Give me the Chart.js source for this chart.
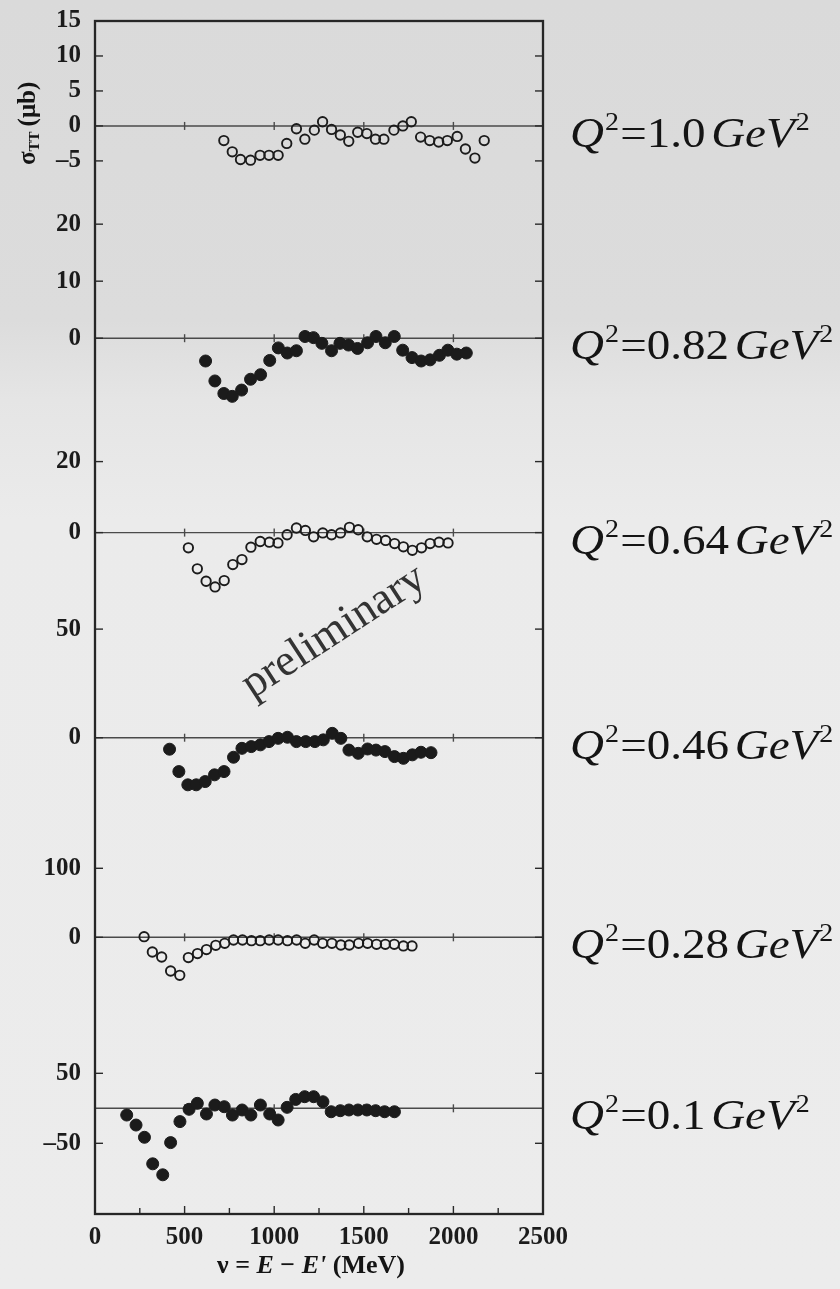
<!DOCTYPE html>
<html>
<head>
<meta charset="utf-8">
<script src="https://cdn.jsdelivr.net/npm/chart.js@4.4.1/dist/chart.umd.min.js"></script>
<style>
html,body{margin:0;padding:0;}
body{width:840px;height:1289px;overflow:hidden;
background:linear-gradient(to bottom,#dadada 0px,#dcdcdc 320px,#e5e5e5 400px,#ebebeb 520px,#ececec 1289px);}
#wrap{position:relative;width:840px;height:1289px;}
canvas{display:block;}
</style>
</head>
<body>
<div id="wrap"><canvas id="c" width="840" height="1289"></canvas></div>
<script>
// ---------- data ----------
const q2Labels = ['1.0', '0.82', '0.64', '0.46', '0.28', '0.1'];

const nuQ100 = [719,766,812,868,921,971,1022,1070,1124,1171,1224,1270,1320,1369,1416,1466,1517,1565,1612,1668,1718,1765,1817,1868,1918,1966,2021,2067,2120,2172];
const sigQ100 = [-2.1,-3.7,-4.8,-4.9,-4.2,-4.2,-4.2,-2.5,-0.4,-1.9,-0.6,0.6,-0.5,-1.3,-2.2,-0.9,-1.1,-1.9,-1.9,-0.6,0.0,0.6,-1.6,-2.1,-2.3,-2.1,-1.5,-3.3,-4.6,-2.1];

const nuQ082 = [617,669,719,766,818,868,924,975,1023,1073,1124,1172,1219,1266,1320,1367,1415,1465,1521,1568,1620,1670,1717,1769,1820,1870,1922,1969,2019,2072];
const sigQ082 = [-4.0,-7.5,-9.7,-10.2,-9.1,-7.2,-6.4,-3.9,-1.7,-2.6,-2.2,0.3,0.1,-0.9,-2.2,-0.9,-1.2,-1.8,-0.8,0.3,-0.8,0.3,-2.1,-3.4,-4.0,-3.8,-3.0,-2.1,-2.8,-2.6];

const nuQ064 = [521,571,620,670,721,769,820,870,922,973,1021,1072,1124,1174,1220,1271,1320,1370,1420,1469,1519,1571,1622,1672,1721,1771,1822,1870,1920,1970];
const sigQ064 = [-4.3,-10.2,-13.7,-15.3,-13.5,-9.0,-7.6,-4.1,-2.5,-2.7,-2.9,-0.6,1.3,0.6,-1.2,-0.1,-0.6,-0.1,1.5,0.8,-1.2,-1.9,-2.2,-3.1,-4.0,-5.0,-4.3,-3.1,-2.7,-2.9];

const nuQ046 = [416,468,518,565,615,667,720,773,820,872,923,971,1022,1074,1124,1176,1227,1274,1324,1372,1417,1469,1521,1568,1618,1671,1721,1771,1819,1875];
const sigQ046 = [-5.3,-15.6,-21.7,-21.7,-20.2,-17.1,-15.6,-9.0,-4.9,-4.1,-3.3,-1.8,-0.3,0.2,-1.8,-1.8,-1.8,-1.0,2.0,-0.3,-5.7,-7.2,-5.2,-5.7,-6.4,-8.7,-9.5,-7.9,-6.7,-6.9];

const nuQ028 = [274,320,372,422,473,521,572,622,674,724,773,823,873,922,972,1022,1074,1125,1173,1223,1270,1322,1372,1419,1471,1521,1571,1620,1670,1721,1769];
const sigQ028 = [0.9,-21.3,-28.5,-48.8,-55.1,-29.4,-23.6,-17.8,-11.6,-8.7,-3.9,-3.9,-4.9,-4.9,-3.9,-3.9,-4.9,-3.9,-8.7,-3.9,-8.7,-8.7,-11.1,-11.1,-8.7,-8.7,-10.1,-10.1,-10.1,-12.5,-12.5];

const nuQ010 = [177,229,276,322,378,422,474,525,571,622,669,721,767,821,870,923,975,1022,1072,1120,1170,1220,1272,1318,1369,1417,1467,1517,1566,1616,1671];
const sigQ010 = [-9.6,-23.9,-41.4,-79.3,-95,-49,-19.0,-1.4,7.1,-8.1,4.7,2.3,-9.6,-2.4,-9.6,4.7,-8.1,-16.7,1.4,12.7,16.6,16.6,9.4,-4.9,-3.4,-2.4,-2.4,-2.4,-3.4,-4.9,-4.9];

const yTicksQ100 = [15, 10, 5, 0, -5];
const yTicksQ082 = [20, 10, 0];
const yTicksQ064 = [20, 0];
const yTicksQ046 = [50, 0];
const yTicksQ028 = [100, 0];
const yTicksQ010 = [50, -50];

const xTicks = [0, 500, 1000, 1500, 2000, 2500];
const xMinorTicks = [250, 750, 1250, 1750, 2250];
const zeroLineTicks = [500, 1000, 1500, 2000];

// ---------- panel setup ----------
const panels = [
  {id:'p1', nu:nuQ100, sig:sigQ100, ticks:yTicksQ100, filled:false, min:-6.3,  max:15,    h:149},
  {id:'p2', nu:nuQ082, sig:sigQ082, ticks:yTicksQ082, filled:true,  min:-16.1, max:29.5,  h:260},
  {id:'p3', nu:nuQ064, sig:sigQ064, ticks:yTicksQ064, filled:false, min:-21.8, max:28.9,  h:180},
  {id:'p4', nu:nuQ046, sig:sigQ046, ticks:yTicksQ046, filled:true,  min:-42.5, max:58.8,  h:220},
  {id:'p5', nu:nuQ028, sig:sigQ028, ticks:yTicksQ028, filled:false, min:-134.3,max:155.5, h:200},
  {id:'p6', nu:nuQ010, sig:sigQ010, ticks:yTicksQ010, filled:true,  min:-151,  max:111.9, h:184}
];

const INK = '#1b1b1b';
const SERIF = '"Liberation Serif", "DejaVu Serif", serif';
const tickFont = {family: SERIF, size: 25, weight: 'bold'};

const datasets = panels.map((p, k) => ({
  label: 'Q2=' + q2Labels[k],
  data: p.nu.map((x, i) => ({x: x, y: p.sig[i]})),
  yAxisID: p.id,
  pointStyle: 'circle',
  pointRadius: p.filled ? 6 : 4.7,
  pointHoverRadius: p.filled ? 6 : 4.7,
  borderWidth: p.filled ? 1 : 1.9,
  borderColor: INK,
  backgroundColor: p.filled ? INK : 'rgba(0,0,0,0)',
  showLine: false
}));

const scales = {
  x: {
    type: 'linear', position: 'bottom', min: 0, max: 2500,
    afterBuildTicks: s => { s.ticks = xTicks.map(v => ({value: v})); },
    afterFit: s => { s.height = 75; s.paddingLeft = 0; s.paddingRight = 0; },
    ticks: {font: tickFont, color: INK, padding: 9, maxRotation: 0, autoSkip: false,
            callback: v => String(v)},
    grid: {display: false, drawTicks: false},
    border: {display: false}
  }
};
panels.forEach((p, i) => {
  scales[p.id] = {
    type: 'linear', position: 'left', stack: 'panels', stackWeight: p.h,
    weight: 10 - i, min: p.min, max: p.max,
    afterBuildTicks: s => { s.ticks = p.ticks.map(v => ({value: v})); },
    afterFit: s => { s.width = 95; s.paddingTop = 0; s.paddingBottom = 0; },
    ticks: {font: tickFont, color: INK, padding: 14, autoSkip: false,
            callback: v => v < 0 ? '\u2013' + Math.abs(v) : String(v)},
    grid: {display: false, drawTicks: false},
    border: {display: false}
  };
});

function seg(ctx, x1, y1, x2, y2) {
  ctx.beginPath(); ctx.moveTo(x1, y1); ctx.lineTo(x2, y2); ctx.stroke();
}

function drawRuns(ctx, runs, x, y) {
  runs.forEach(r => {
    ctx.font = r.f;
    ctx.fillText(r.t, x, y + (r.dy || 0));
    x += ctx.measureText(r.t).width + (r.gap || 0);
  });
  return x;
}
function runsWidth(ctx, runs) {
  let w = 0;
  runs.forEach(r => { ctx.font = r.f; w += ctx.measureText(r.t).width + (r.gap || 0); });
  return w;
}

const decor = {
  id: 'decor',
  beforeDatasetsDraw(chart) {
    const {ctx, chartArea: a, scales: sc} = chart;
    ctx.save();
    // watermark
    ctx.save();
    ctx.translate(334, 632);
    ctx.rotate(-33 * Math.PI / 180);
    ctx.font = '45px ' + SERIF;
    ctx.fillStyle = '#333';
    ctx.textAlign = 'center';
    ctx.textBaseline = 'middle';
    ctx.fillText('preliminary', 0, 0);
    ctx.restore();

    ctx.lineCap = 'butt';
    panels.forEach(p => {
      const s = sc[p.id];
      const y0 = s.getPixelForValue(0);
      ctx.strokeStyle = '#4a4a4a';
      ctx.lineWidth = 1.4;
      seg(ctx, a.left, y0, a.right, y0);
      zeroLineTicks.forEach(v => {
        const x = sc.x.getPixelForValue(v);
        seg(ctx, x, y0 - 4, x, y0 + 4);
      });
      ctx.strokeStyle = '#2a2a2a';
      ctx.lineWidth = 1.4;
      s.ticks.forEach(t => {
        const yy = s.getPixelForValue(t.value);
        seg(ctx, a.left, yy, a.left + 8, yy);
        seg(ctx, a.right, yy, a.right - 8, yy);
      });
    });
    ctx.strokeStyle = '#2a2a2a';
    ctx.lineWidth = 1.4;
    xTicks.forEach(v => {
      const x = sc.x.getPixelForValue(v);
      seg(ctx, x, a.bottom, x, a.bottom - 8);
    });
    xMinorTicks.forEach(v => {
      const x = sc.x.getPixelForValue(v);
      seg(ctx, x, a.bottom, x, a.bottom - 6);
    });
    // frame
    ctx.strokeStyle = '#262626';
    ctx.lineWidth = 2.3;
    ctx.strokeRect(a.left, a.top, a.right - a.left, a.bottom - a.top);
    ctx.restore();
  },
  afterDraw(chart) {
    const {ctx, chartArea: a, scales: sc} = chart;
    ctx.save();
    ctx.fillStyle = '#141414';
    ctx.textBaseline = 'alphabetic';
    ctx.textAlign = 'left';
    // Q^2 labels (slightly widened serif, like the scan)
    const big = '42px ' + SERIF, bigI = 'italic 42px ' + SERIF, sup = '25px ' + SERIF;
    panels.forEach((p, i) => {
      const y0 = sc[p.id].getPixelForValue(0) + 21;
      ctx.save();
      ctx.translate(570, y0);
      ctx.scale(1.12, 1);
      drawRuns(ctx, [
        {t: 'Q', f: bigI, gap: 1},
        {t: '2', f: sup, dy: -17, gap: 1},
        {t: '=' + q2Labels[i], f: big, gap: 5},
        {t: 'GeV', f: bigI, gap: 1},
        {t: '2', f: sup, dy: -17}
      ], 0, 0);
      ctx.restore();
    });
    // y axis title (rotated)
    ctx.save();
    ctx.translate(35, 165);
    ctx.rotate(-Math.PI / 2);
    drawRuns(ctx, [
      {t: '\u03c3', f: 'bold 25px ' + SERIF},
      {t: 'TT', f: 'bold 15px ' + SERIF, dy: 4, gap: 5},
      {t: '(\u03bcb)', f: 'bold 25px ' + SERIF}
    ], 0, 0);
    ctx.restore();
    // x axis title
    const xr = [
      {t: '\u03bd = ', f: 'bold 26px ' + SERIF},
      {t: 'E', f: 'bold italic 26px ' + SERIF},
      {t: ' \u2212 ', f: 'bold 26px ' + SERIF},
      {t: "E'", f: 'bold italic 26px ' + SERIF},
      {t: ' (MeV)', f: 'bold 26px ' + SERIF}
    ];
    const w = runsWidth(ctx, xr);
    drawRuns(ctx, xr, (a.left + a.right) / 2 - w / 2 - 8, 1273);
    ctx.restore();
  }
};

new Chart(document.getElementById('c'), {
  type: 'scatter',
  data: {datasets},
  options: {
    responsive: false,
    devicePixelRatio: 1,
    animation: false,
    layout: {padding: {left: 0, top: 21, right: 297, bottom: 0}},
    plugins: {legend: {display: false}, tooltip: {enabled: false}},
    scales
  },
  plugins: [decor]
});
</script>
</body>
</html>
